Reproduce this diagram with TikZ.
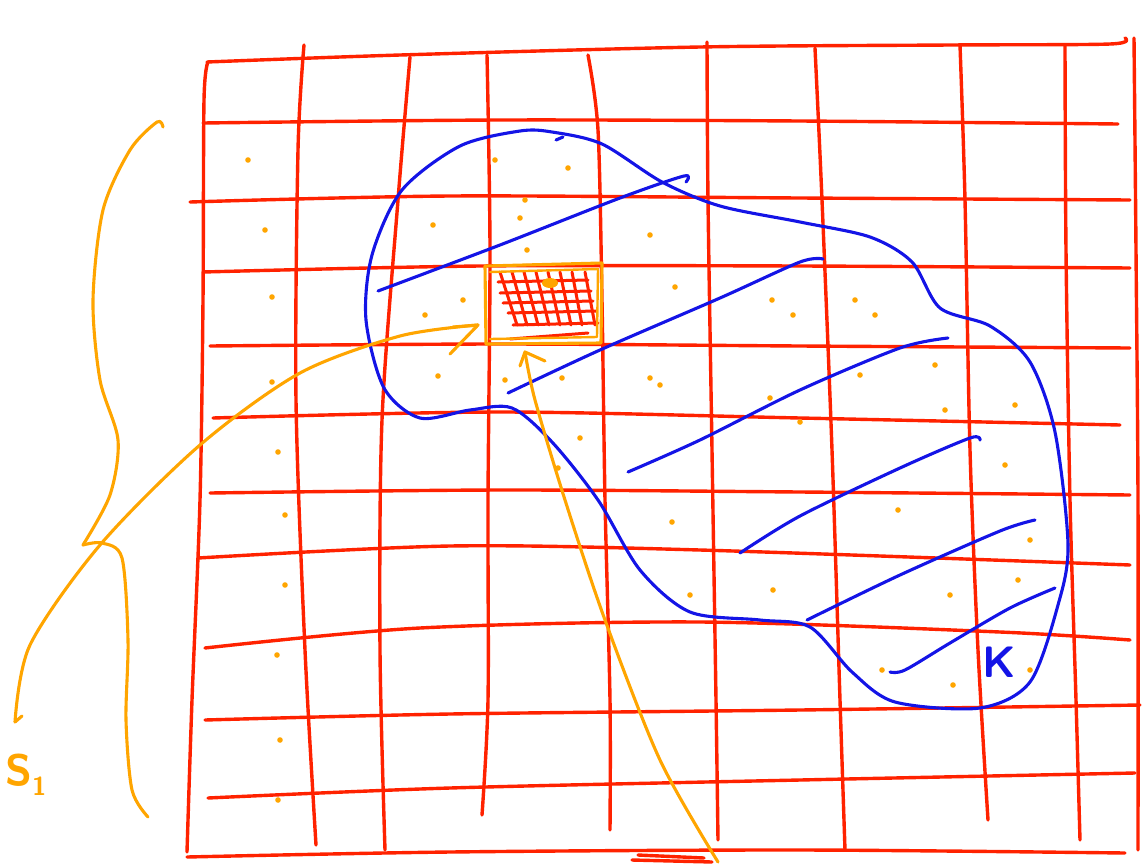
\documentclass[tikz,border=0pt]{standalone}
\usetikzlibrary{arrows.meta}
\definecolor{pen}{RGB}{255,34,0}
\definecolor{amber}{RGB}{255,165,0}
\definecolor{ink}{RGB}{20,20,230}
\tikzset{
  redline/.style={draw=pen, line width=3.4pt, line cap=round, line join=round},
  blueline/.style={draw=ink, line width=3.1pt, line cap=round, line join=round},
  orline/.style={draw=amber, line width=3.1pt, line cap=round, line join=round},
  fineline/.style={draw=pen, line width=3pt, line cap=round},
  speck/.style={fill=amber, draw=none},
  handtext/.style={font=\fontsize{44}{44}\selectfont\sffamily\bfseries, inner sep=0pt}
}
\begin{document}
\begin{tikzpicture}[x=1pt,y=-1pt]
\useasboundingbox (0,0) rectangle (1144,863);
% ---------------- red grid: verticals
\draw[redline] plot[smooth] coordinates {(208,62) (204,100) (203,300) (200,500) (192,700) (187,852)};
\draw[redline] plot[smooth] coordinates {(304,45) (298,150) (296,400) (305,650) (316,845)};
\draw[redline] plot[smooth] coordinates {(410,57) (398,200) (382,420) (380,650) (385,850)};
\draw[redline] plot[smooth] coordinates {(487,55) (490,250) (488,500) (488,700) (482,815)};
\draw[redline] plot[smooth] coordinates {(588,55) (598,130) (602,300) (605,500) (610,700) (610,830)};
\draw[redline] plot[smooth] coordinates {(707,42) (708,200) (712,450) (716,700) (718,840)};
\draw[redline] plot[smooth] coordinates {(815,48) (822,200) (832,450) (840,700) (845,850)};
\draw[redline] plot[smooth] coordinates {(960,45) (965,200) (970,450) (978,650) (988,820)};
\draw[redline] plot[smooth] coordinates {(1065,45) (1066,250) (1070,500) (1076,700) (1080,840)};
\draw[redline] plot[smooth] coordinates {(1134,38) (1136,250) (1138,500) (1138,850)};
% ---------------- red grid: horizontals
\draw[redline] plot[smooth] coordinates {(207,62) (400,55) (700,47) (950,45) (1110,44) (1125,38)};
\draw[redline] plot[smooth] coordinates {(203,123) (500,120) (800,121) (1118,124)};
\draw[redline] plot[smooth] coordinates {(190,202) (450,196) (800,198) (1130,200)};
\draw[redline] plot[smooth] coordinates {(203,272) (480,266) (800,266) (1130,268)};
\draw[redline] plot[smooth] coordinates {(210,346) (500,344) (800,346) (1130,348)};
\draw[redline] plot[smooth] coordinates {(213,418) (500,412) (800,418) (1120,425)};
\draw[redline] plot[smooth] coordinates {(210,493) (500,490) (800,492) (1130,495)};
\draw[redline] plot[smooth] coordinates {(198,558) (450,546) (700,550) (1130,565)};
\draw[redline] plot[smooth] coordinates {(205,648) (420,628) (700,622) (1000,632) (1130,640)};
\draw[redline] plot[smooth] coordinates {(205,720) (450,714) (800,710) (1140,705)};
\draw[redline] plot[smooth] coordinates {(208,798) (450,788) (800,780) (1135,773)};
\draw[redline] plot[smooth] coordinates {(187,857) (450,852) (800,850) (1125,853)};
\draw[redline] (638,855) -- (704,858);
\draw[redline] (632,860) -- (712,862);
% ---------------- small fine grid
\foreach \xt/\xb in {500/517, 512/527, 524/538, 536/549, 548/560, 560/571, 572/582, 585/595}
  \draw[fineline] (\xt,272) -- (\xb,325);
\foreach \yy/\xl/\xr in {282/498/588, 293/500/591, 303/503/593, 313/508/596, 325/513/598}
  \draw[fineline] (\xl,\yy) -- (\xr,\yy-2);
\draw[fineline] (510,339) -- (588,333);
\fill[amber] (550,283) ellipse (8pt and 5pt);
% orange frame (doubled stroke)
\draw[orline] (485,266) -- (602,263) -- (601,343) -- (486,344) -- cycle;
\draw[orline, line width=2.4pt] (490,272) -- (598,269) -- (597,337) -- (490,339);
% ---------------- blue region K
\draw[blueline] plot[smooth cycle] coordinates {
  (520,131) (460,146) (402,190) (372,255) (366,320) (384,388) (420,418)
  (470,410) (512,408) (552,442) (598,500) (640,570) (690,612) (760,620)
  (810,627) (852,672) (895,702) (980,708) (1030,682) (1058,605) (1068,545)
  (1055,432) (1030,362) (990,326) (940,308) (912,262) (870,237) (800,222)
  (720,206) (662,182) (602,144) (552,132)};
\draw[blueline] (556,140) -- (563,137);
% hatching
\draw[blueline] plot[smooth] coordinates {(378,291) (500,245) (620,198) (684,176) (686,182)};
\draw[blueline] plot[smooth] coordinates {(508,393) (600,350) (720,298) (800,262) (823,259)};
\draw[blueline] plot[smooth] coordinates {(628,472) (700,440) (800,390) (900,348) (948,338)};
\draw[blueline] plot[smooth] coordinates {(740,553) (800,516) (900,468) (970,438) (980,440)};
\draw[blueline] plot[smooth] coordinates {(807,620) (900,575) (1000,531) (1035,520)};
\draw[blueline] plot[smooth] coordinates {(890,672) (905,670) (950,643) (1010,608) (1055,588)};
% K label
\node[handtext, text=ink] (klabel) at (999,662) {K};
% ---------------- orange brace and arrows
\draw[orline] plot[smooth] coordinates {(163,127) (157,122) (130,150) (103,210) (93,300) (100,380) (118,440) (110,495) (83,545)};
\draw[orline] plot[smooth] coordinates {(83,545) (102,543) (122,558) (128,640) (126,720) (132,790) (148,817)};
% arrow from S1 towards fine grid
\coordinate (gridleft) at (478,325);
\coordinate (sone) at (15,722);
\draw[orline] plot[smooth] coordinates {(sone) (30,645) (100,545) (200,445) (300,373) (400,336) (gridleft)};
\draw[orline] (15,722) -- (22,716);
\draw[orline] (453,327) -- (478,325) -- (450,354);
% arrow from bottom towards fine grid
\coordinate (gridbottom) at (525,352);
\coordinate (bottomend) at (718,862);
\draw[orline] plot[smooth] coordinates {(bottomend) (660,760) (605,620) (565,500) (535,400) (gridbottom)};
\draw[orline] (520,366) -- (525,352) -- (545,361);
% S1 label
\node[handtext, text=amber, anchor=west] (slabel) at (5,775) {S\raisebox{-0.5ex}{\fontsize{26}{26}\selectfont 1}};
% ---------------- scattered specks
\foreach \px/\py in {248/160, 265/230, 272/297, 272/382, 278/452, 285/515, 285/585, 277/655,
  280/740, 278/800, 495/160, 568/168, 525/200, 520/218, 433/225, 650/235, 675/287, 772/300,
  793/315, 855/300, 875/315, 438/376, 505/380, 562/378, 650/378, 660/385, 770/398, 800/422,
  860/375, 935/365, 945/410, 1015/405, 1005/465, 580/438, 558/468, 672/522, 898/510, 1030/540,
  1018/580, 950/595, 690/595, 773/590, 882/670, 953/685, 1030/670, 425/315, 463/300, 527/250}
  \fill[speck] (\px,\py) circle (2.8pt);
\end{tikzpicture}
\end{document}
